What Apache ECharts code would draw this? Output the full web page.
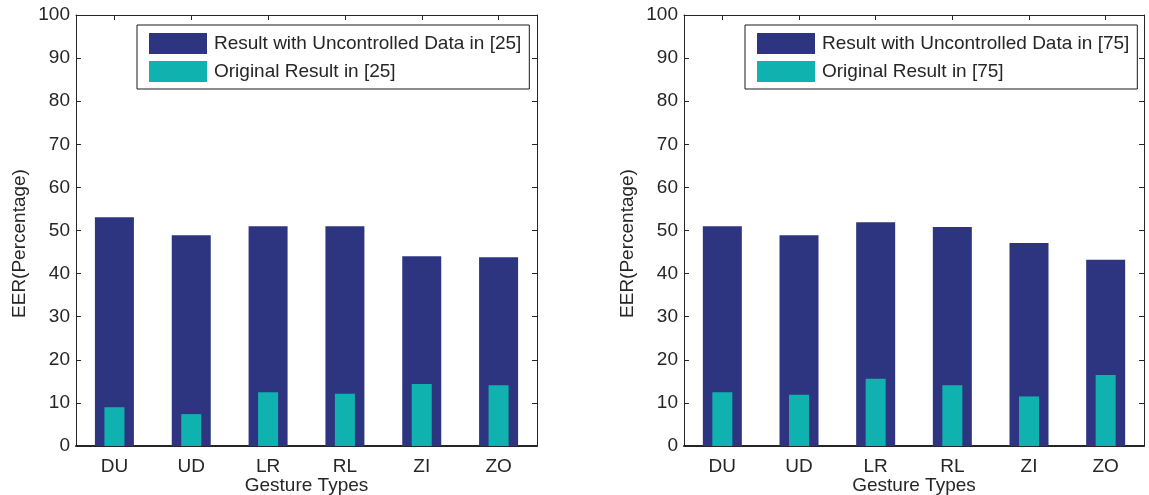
<!DOCTYPE html>
<html>
<head>
<meta charset="utf-8">
<script src="https://cdn.jsdelivr.net/npm/echarts@6/dist/echarts.min.js"></script>
<style>
html,body{margin:0;padding:0;background:#fff;}
#chart{width:1149px;height:495px;}
</style>
</head>
<body>
<div id="chart"></div>
<script>
// ---- data ----
const categories = ['DU', 'UD', 'LR', 'RL', 'ZI', 'ZO'];
const uncontrolled25 = [53.1, 48.9, 51.0, 51.0, 44.0, 43.8];
const original25 = [9.0, 7.4, 12.5, 12.1, 14.4, 14.1];
const uncontrolled75 = [51.0, 48.9, 51.9, 50.8, 47.1, 43.2];
const original75 = [12.5, 11.9, 15.6, 14.1, 11.5, 16.5];
const legendNames25 = ['Result with Uncontrolled Data in [25]', 'Original Result in [25]'];
const legendNames75 = ['Result with Uncontrolled Data in [75]', 'Original Result in [75]'];
const yMin = 0, yMax = 100, yStep = 10;
const xTitle = 'Gesture Types';
const yTitle = 'EER(Percentage)';

// ---- styling ----
const FONT = '"Liberation Sans", Arial, Helvetica, sans-serif';
const TXT = '#262626';
const DARK = '#2E3580';
const TEAL = '#10B2B0';
const FS = 19;

const chart = echarts.init(document.getElementById('chart'), null, {renderer: 'canvas'});

const grids = [
  {left: 76, top: 15, width: 461, height: 431, containLabel: false, outerBoundsMode: 'none'},
  {left: 684, top: 15, width: 460, height: 431, containLabel: false, outerBoundsMode: 'none'}
];

function xAxes(gi) {
  return [
    {
      type: 'category', gridIndex: gi, position: 'bottom', data: categories,
      axisLine: {show: true, onZero: false, lineStyle: {color: TXT, width: 2}},
      axisTick: {show: false},
      axisLabel: {color: TXT, fontSize: FS, fontFamily: FONT, margin: 11},
      name: xTitle, nameLocation: 'middle', nameGap: 30, nameMoveOverlap: false,
      nameTextStyle: {color: TXT, fontSize: FS, fontFamily: FONT}
    },
    {
      type: 'category', gridIndex: gi, position: 'top', data: categories,
      axisLine: {show: true, onZero: false, lineStyle: {color: TXT, width: 1}},
      axisTick: {show: true, inside: true, alignWithLabel: true, length: 5, lineStyle: {color: TXT}},
      axisLabel: {show: false}
    }
  ];
}
function yAxes(gi) {
  return [
    {
      type: 'value', gridIndex: gi, position: 'left', min: yMin, max: yMax, interval: yStep,
      axisLine: {show: true, lineStyle: {color: TXT, width: 1}},
      axisTick: {show: true, inside: true, length: 5, lineStyle: {color: TXT}},
      axisLabel: {color: TXT, fontSize: FS, fontFamily: FONT, margin: 6},
      splitLine: {show: false},
      name: yTitle, nameLocation: 'middle', nameGap: 47, nameRotate: 90, nameMoveOverlap: false,
      nameTextStyle: {color: TXT, fontSize: FS, fontFamily: FONT, padding: [0, 26, 0, 0]}
    },
    {
      type: 'value', gridIndex: gi, position: 'right', min: yMin, max: yMax, interval: yStep,
      axisLine: {show: true, lineStyle: {color: TXT, width: 1}},
      axisTick: {show: true, inside: true, length: 5, lineStyle: {color: TXT}},
      axisLabel: {show: false},
      splitLine: {show: false}
    }
  ];
}

const legendBase = {
  orient: 'vertical', top: 25, icon: 'rect',
  itemWidth: 58, itemHeight: 21, itemGap: 7,
  padding: [8, 8, 7, 12],
  borderColor: '#1a1a1a', borderWidth: 1, backgroundColor: '#fff',
  textStyle: {color: TXT, fontSize: FS, fontFamily: FONT, padding: [0, 0, 0, 2]},
  selectedMode: false
};

const option = {
  backgroundColor: '#fff',
  animation: false,
  grid: grids,
  xAxis: [...xAxes(0), ...xAxes(1)],
  yAxis: [...yAxes(0), ...yAxes(1)],
  legend: [
    Object.assign({}, legendBase, {left: 137, data: legendNames25}),
    Object.assign({}, legendBase, {left: 745, data: legendNames75})
  ],
  series: [
    {name: legendNames25[0], type: 'bar', xAxisIndex: 0, yAxisIndex: 0, data: uncontrolled25, barWidth: 39, itemStyle: {color: DARK}},
    {name: legendNames25[1], type: 'bar', xAxisIndex: 1, yAxisIndex: 0, data: original25, barWidth: 20, itemStyle: {color: TEAL}},
    {name: legendNames75[0], type: 'bar', xAxisIndex: 2, yAxisIndex: 2, data: uncontrolled75, barWidth: 39, itemStyle: {color: DARK}},
    {name: legendNames75[1], type: 'bar', xAxisIndex: 3, yAxisIndex: 2, data: original75, barWidth: 20, itemStyle: {color: TEAL}}
  ]
};
chart.setOption(option);
</script>
</body>
</html>
